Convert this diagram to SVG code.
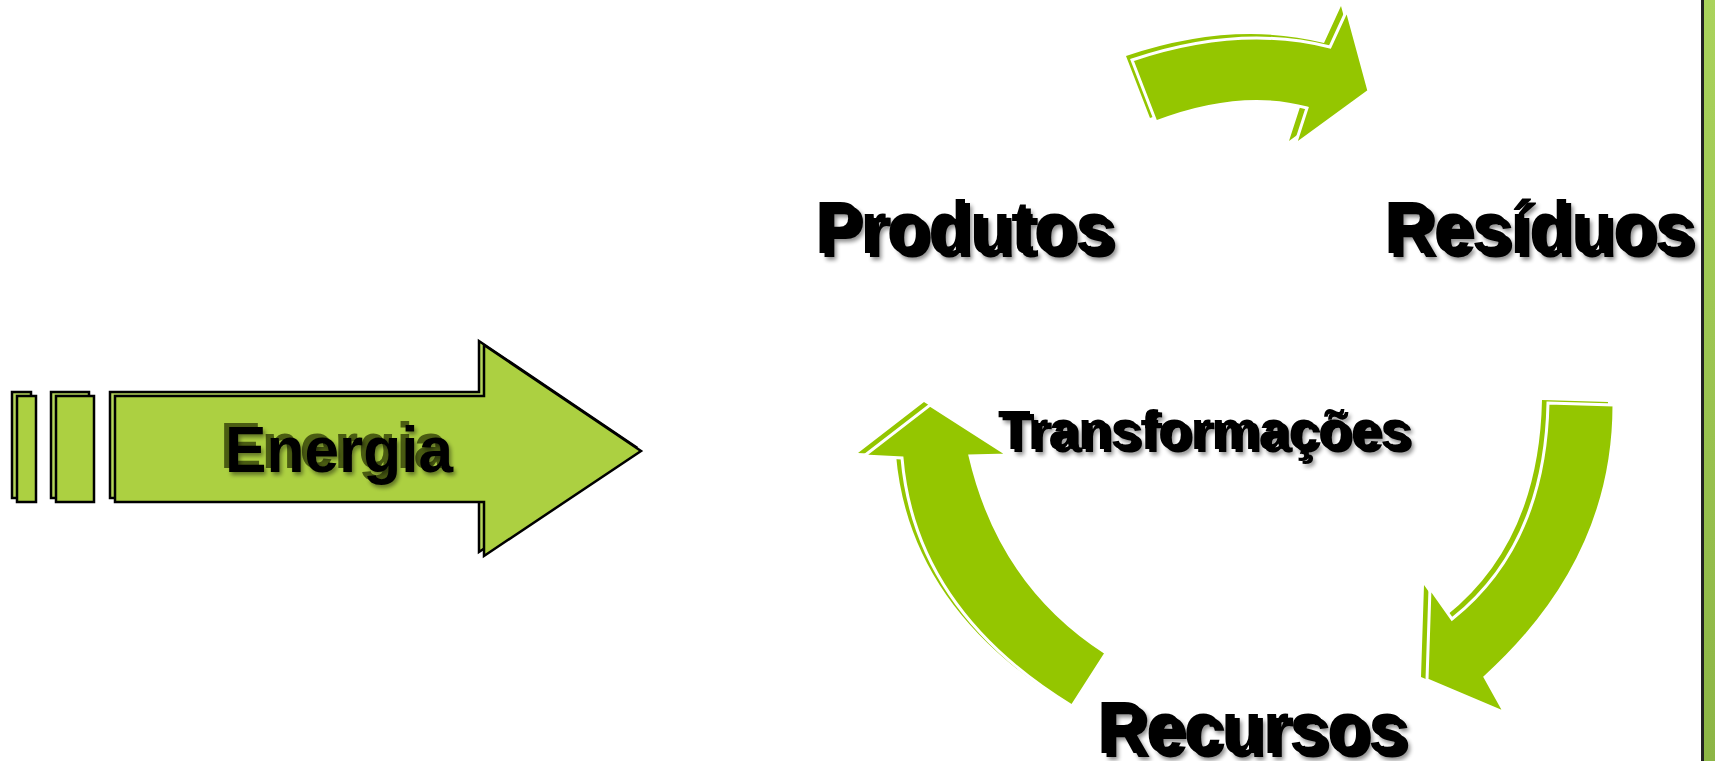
<svg xmlns="http://www.w3.org/2000/svg" width="1715" height="761" viewBox="0 0 1715 761">
<defs>
<style>
.big{font-family:"Liberation Sans",Arial,sans-serif;font-weight:bold;font-size:74px;fill:#000}
.mid{font-family:"Liberation Sans",Arial,sans-serif;font-weight:bold;font-size:56px;fill:#000}
.en{font-family:"Liberation Sans",Arial,sans-serif;font-weight:bold;font-size:64px}
.ga{fill:#94c600}
.gaf{fill:#94c600;stroke:#fff;stroke-width:3;stroke-linejoin:miter}
.eb{fill:#b3d55a;stroke:#000;stroke-width:2.5}
.ef{fill:#acd041;stroke:#000;stroke-width:2.5}
</style>
<filter id="sh" x="-10%" y="-20%" width="130%" height="150%">
<feGaussianBlur in="SourceAlpha" stdDeviation="2"/>
<feOffset dx="2" dy="3" result="b"/>
<feComponentTransfer><feFuncA type="linear" slope="0.45"/></feComponentTransfer>
<feMerge><feMergeNode/><feMergeNode in="SourceGraphic"/></feMerge>
</filter>
<linearGradient id="strip" x1="0" y1="0" x2="0" y2="1">
<stop offset="0" stop-color="#aad35c"/>
<stop offset="1" stop-color="#8cb545"/>
</linearGradient>
</defs>
<rect width="1715" height="761" fill="#fff"/>
<rect x="1704" y="0" width="11" height="761" fill="url(#strip)"/>
<rect x="1701" y="0" width="3" height="761" fill="#222"/>

<g id="connectors">
<g id="arrow-top">
<path class="ga" transform="translate(-6,-4)" d="M1132,60 Q1239,24 1330,47 L1347,10 L1369,91 L1295,145 L1307,108 Q1240,90 1156,122 Z"/>
<path class="gaf" d="M1132,60 Q1239,24 1330,47 L1347,10 L1369,91 L1295,145 L1307,108 Q1240,90 1156,122 Z"/>
</g>
<g id="arrow-right">
<path class="ga" transform="translate(-6,-3)" d="M1548,403 L1614,405 Q1614,560 1485,677 L1505,713 L1427,680 L1430,588 L1452,619 Q1545,545 1548,403 Z"/>
<path class="gaf" d="M1548,403 L1614,405 Q1614,560 1485,677 L1505,713 L1427,680 L1430,588 L1452,619 Q1545,545 1548,403 Z"/>
</g>
<g id="arrow-left">
<path class="ga" transform="translate(-6,-3)" d="M1072,706 Q915,610 902,458 L864,456 L930,405 L1008,455 L970,456 Q1000,585 1106,653 Z"/>
<path class="gaf" d="M1072,706 Q915,610 902,458 L864,456 L930,405 L1008,455 L970,456 Q1000,585 1106,653 Z"/>
</g>
</g>

<g id="energia">
<rect class="eb" x="12" y="392" width="19" height="106"/>
<rect class="eb" x="51" y="392" width="38" height="106"/>
<polygon class="eb" points="110,392 479,392 479,341 636,447 479,552 479,498 110,498"/>
<rect class="ef" x="17" y="396" width="19" height="106"/>
<rect class="ef" x="56" y="396" width="38" height="106"/>
<polygon class="ef" points="115,396 484,396 484,345 641,451 484,556 484,502 115,502"/>
<text class="en" x="220" y="468" fill="#4a5c12" textLength="228" lengthAdjust="spacingAndGlyphs">Energia</text>
<text class="en" x="225" y="472" fill="#000" filter="url(#sh)" textLength="228" lengthAdjust="spacingAndGlyphs">Energia</text>
</g>

<g id="produtos">
<text class="big" x="815" y="253" textLength="298" lengthAdjust="spacingAndGlyphs">Produtos</text>
<text class="big" x="820" y="257" filter="url(#sh)" textLength="298" lengthAdjust="spacingAndGlyphs">Produtos</text>
</g>
<g id="residuos">
<text class="big" x="1384" y="253" textLength="309" lengthAdjust="spacingAndGlyphs">Resíduos</text>
<text class="big" x="1389" y="257" filter="url(#sh)" textLength="309" lengthAdjust="spacingAndGlyphs">Resíduos</text>
</g>
<g id="transformacoes">
<text class="mid" x="998" y="449" textLength="412" lengthAdjust="spacingAndGlyphs">Transformações</text>
<text class="mid" x="1002" y="452" filter="url(#sh)" textLength="412" lengthAdjust="spacingAndGlyphs">Transformações</text>
</g>
<g id="recursos">
<text class="big" x="1097" y="753" textLength="309" lengthAdjust="spacingAndGlyphs">Recursos</text>
<text class="big" x="1102" y="757" filter="url(#sh)" textLength="309" lengthAdjust="spacingAndGlyphs">Recursos</text>
</g>
</svg>
